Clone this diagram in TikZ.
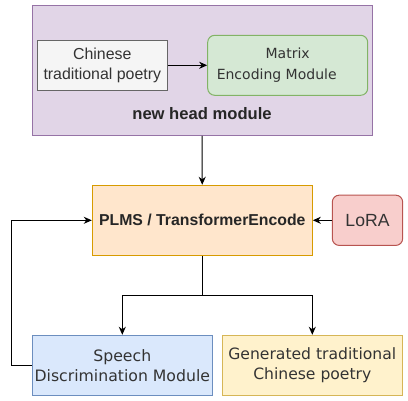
\documentclass[tikz,border=0pt]{standalone}
\usepackage{fontspec}
\setmainfont{Liberation Sans}
\newfontfamily\dejavu{DejaVu Sans}
\usetikzlibrary{arrows.meta}

\definecolor{headfill}{HTML}{E1D5E7}
\definecolor{headline}{HTML}{9673A6}
\definecolor{grayfill}{HTML}{F5F5F5}
\definecolor{grayline}{HTML}{666666}
\definecolor{greenfill}{HTML}{D5E8D4}
\definecolor{greenline}{HTML}{82B366}
\definecolor{orangefill}{HTML}{FFE6CC}
\definecolor{orangeline}{HTML}{D79B00}
\definecolor{redfill}{HTML}{F8CECC}
\definecolor{redline}{HTML}{B85450}
\definecolor{bluefill}{HTML}{DAE8FC}
\definecolor{blueline}{HTML}{6C8EBF}
\definecolor{yellowfill}{HTML}{FFF2CC}
\definecolor{yellowline}{HTML}{D6B656}
\definecolor{txt}{HTML}{333333}

\tikzset{
  box/.style={draw, line width=1pt, inner sep=0pt, align=center, text=txt},
  arr/.style={line width=1pt, -{Stealth[length=8pt,width=7pt,inset=2.5pt]}},
}

\begin{document}
\begin{tikzpicture}[x=1pt,y=-1pt]
    \useasboundingbox (0,0) rectangle (408,401);
    % new head module
    \node[box, fill=headfill, draw=headline, minimum width=340pt, minimum height=130pt] (head) at (202,70.3) {};
    \node[box, fill=grayfill, draw=grayline, minimum width=130pt, minimum height=50pt,
          font=\fontsize{15.9}{20.5}\selectfont] (poem) at (102.3,65.3) {Chinese\\traditional poetry};
    \node[box, fill=greenfill, draw=greenline, rounded corners=7pt, minimum width=160pt, minimum height=60pt,
          font=\dejavu\fontsize{14}{21.5}\selectfont] (matrix) at (287.7,65.3) {Matrix\\Encoding Module\hspace*{22pt}};
    \node[font=\bfseries\fontsize{16.6}{20}\selectfont, text=black!85] (headlabel) at (202,114) {new head module};
    \draw[arr] (poem) -- (matrix);
    % encoder
    \node[box, fill=orangefill, draw=orangeline, minimum width=220pt, minimum height=70pt,
          font=\bfseries\fontsize{15.8}{19}\selectfont, text=black!85] (plms) at (202.3,220.3) {PLMS / TransformerEncode};
    \node[box, fill=redfill, draw=redline, rounded corners=7pt, minimum width=70.4pt, minimum height=50.3pt,
          font=\fontsize{17.6}{20}\selectfont] (lora) at (367.5,220.3) {LoRA};
    \draw[arr] (head) -- (plms);
    \draw[arr] (lora) -- (plms);
    % outputs
    \node[box, fill=bluefill, draw=blueline, minimum width=180pt, minimum height=60pt,
          font=\dejavu\fontsize{15.7}{20}\selectfont] (speech) at (122.3,365.3) {Speech\\Discrimination Module};
    \node[box, fill=yellowfill, draw=yellowline, minimum width=180pt, minimum height=60pt,
          font=\dejavu\fontsize{15.6}{20}\selectfont] (gen) at (312.3,365.3) {Generated traditional\\Chinese poetry};
    \draw[arr] (plms.south) -- ++(0,39.7) coordinate (split) -| (speech.north);
    \draw[arr] (split) -| (gen.north);
    \draw[arr] (speech.west) -- ++(-20,0) |- (plms.west);
\end{tikzpicture}
\end{document}
